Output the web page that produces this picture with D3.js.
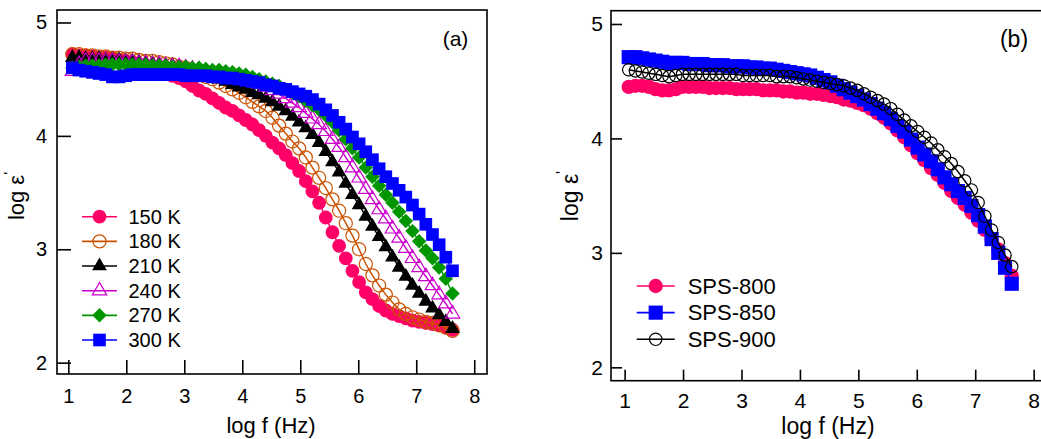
<!DOCTYPE html>
<html>
<head>
<meta charset="utf-8">
<script src="https://cdn.jsdelivr.net/npm/d3@7"></script>
<style>
  body { margin: 0; background: #fff; }
  text { font-family: "Liberation Sans", Arial, sans-serif; fill: #000; }
</style>
</head>
<body>
<script>
// measurement frequencies, log f (Hz)
const logF = [1.07, 1.185, 1.30, 1.415, 1.53, 1.645, 1.76, 1.875, 1.99, 2.105,
  2.22, 2.335, 2.45, 2.565, 2.68, 2.795, 2.91, 3.025, 3.14, 3.255,
  3.37, 3.485, 3.60, 3.715, 3.83, 3.945, 4.06, 4.175, 4.29, 4.405,
  4.52, 4.635, 4.75, 4.865, 4.98, 5.095, 5.21, 5.325, 5.44, 5.555,
  5.67, 5.785, 5.90, 6.015, 6.13, 6.245, 6.36, 6.475, 6.59, 6.705,
  6.82, 6.935, 7.05, 7.165, 7.28, 7.395, 7.51, 7.625];

// panel (a): log eps' at each temperature
const eps150 = [4.72, 4.71, 4.71, 4.70, 4.69, 4.69, 4.68, 4.67, 4.66, 4.65,
  4.63, 4.62, 4.60, 4.58, 4.56, 4.53, 4.51, 4.48, 4.44, 4.40,
  4.37, 4.33, 4.29, 4.25, 4.22, 4.18, 4.14, 4.10, 4.05, 4.00,
  3.94, 3.89, 3.83, 3.76, 3.69, 3.60, 3.51, 3.41, 3.28, 3.15,
  3.03, 2.92, 2.81, 2.71, 2.62, 2.56, 2.50, 2.46, 2.43, 2.41,
  2.39, 2.37, 2.36, 2.35, 2.34, 2.33, 2.31, 2.29];
const eps180 = [4.72, 4.72, 4.71, 4.71, 4.70, 4.70, 4.69, 4.69, 4.68, 4.68,
  4.67, 4.66, 4.66, 4.65, 4.64, 4.63, 4.61, 4.60, 4.57, 4.55,
  4.52, 4.50, 4.47, 4.44, 4.41, 4.38, 4.34, 4.30, 4.26, 4.22,
  4.16, 4.09, 4.02, 3.95, 3.89, 3.81, 3.72, 3.63, 3.54, 3.44,
  3.34, 3.23, 3.12, 3.00, 2.87, 2.77, 2.68, 2.60, 2.53, 2.47,
  2.43, 2.40, 2.38, 2.36, 2.35, 2.33, 2.31, 2.28];
const eps210 = [4.69, 4.69, 4.68, 4.68, 4.68, 4.67, 4.67, 4.67, 4.66, 4.66,
  4.65, 4.64, 4.64, 4.63, 4.62, 4.62, 4.61, 4.60, 4.58, 4.57,
  4.55, 4.53, 4.50, 4.48, 4.45, 4.43, 4.41, 4.38, 4.36, 4.33,
  4.30, 4.26, 4.22, 4.17, 4.12, 4.07, 4.01, 3.94, 3.86, 3.77,
  3.68, 3.58, 3.48, 3.39, 3.29, 3.20, 3.11, 3.02, 2.93, 2.84,
  2.76, 2.68, 2.61, 2.54, 2.48, 2.42, 2.36, 2.30];
const eps240 = [4.57, 4.63, 4.66, 4.66, 4.66, 4.66, 4.66, 4.65, 4.65, 4.65,
  4.64, 4.64, 4.63, 4.63, 4.62, 4.61, 4.61, 4.60, 4.59, 4.58,
  4.57, 4.56, 4.55, 4.54, 4.53, 4.52, 4.50, 4.48, 4.46, 4.43,
  4.40, 4.37, 4.33, 4.29, 4.25, 4.20, 4.15, 4.10, 4.04, 3.97,
  3.90, 3.81, 3.72, 3.63, 3.53, 3.44, 3.35, 3.27, 3.18, 3.10,
  3.01, 2.92, 2.84, 2.76, 2.68, 2.60, 2.52, 2.43];
const eps270 = [4.60, 4.61, 4.62, 4.62, 4.62, 4.63, 4.63, 4.63, 4.63, 4.63,
  4.63, 4.63, 4.62, 4.62, 4.62, 4.61, 4.61, 4.61, 4.60, 4.60,
  4.59, 4.58, 4.58, 4.57, 4.56, 4.55, 4.54, 4.52, 4.50, 4.48,
  4.46, 4.44, 4.41, 4.38, 4.35, 4.31, 4.27, 4.23, 4.18, 4.12,
  4.05, 3.97, 3.89, 3.81, 3.72, 3.64, 3.56, 3.48, 3.41, 3.33,
  3.25, 3.16, 3.07, 2.99, 2.92, 2.84, 2.74, 2.61];
const eps300 = [4.60, 4.58, 4.57, 4.56, 4.55, 4.54, 4.52, 4.52, 4.53, 4.54,
  4.54, 4.54, 4.54, 4.54, 4.54, 4.54, 4.54, 4.53, 4.53, 4.53,
  4.53, 4.52, 4.52, 4.51, 4.51, 4.50, 4.49, 4.48, 4.47, 4.45,
  4.44, 4.42, 4.41, 4.39, 4.37, 4.35, 4.32, 4.28, 4.23, 4.18,
  4.12, 4.06, 3.99, 3.93, 3.86, 3.79, 3.71, 3.64, 3.58, 3.52,
  3.46, 3.39, 3.31, 3.22, 3.13, 3.04, 2.93, 2.81];

// panel (b): log eps' for each sintering temperature
const sps800 = [4.45, 4.46, 4.46, 4.45, 4.43, 4.42, 4.42, 4.43, 4.45, 4.45,
  4.45, 4.45, 4.44, 4.44, 4.44, 4.44, 4.43, 4.43, 4.43, 4.43,
  4.42, 4.42, 4.42, 4.41, 4.41, 4.40, 4.40, 4.39, 4.39, 4.38,
  4.37, 4.36, 4.34, 4.33, 4.31, 4.29, 4.26, 4.22, 4.18, 4.13,
  4.07, 4.01, 3.94, 3.87, 3.81, 3.74, 3.68, 3.61, 3.54, 3.48,
  3.42, 3.35, 3.28, 3.20, 3.12, 3.03, 2.91, 2.80];
const sps850 = [4.71, 4.71, 4.70, 4.69, 4.68, 4.67, 4.66, 4.66, 4.66, 4.65,
  4.65, 4.65, 4.64, 4.64, 4.64, 4.63, 4.63, 4.63, 4.62, 4.62,
  4.61, 4.61, 4.60, 4.59, 4.58, 4.57, 4.56, 4.55, 4.53, 4.51,
  4.49, 4.46, 4.43, 4.40, 4.37, 4.34, 4.30, 4.26, 4.22, 4.17,
  4.11, 4.06, 3.99, 3.92, 3.86, 3.80, 3.73, 3.66, 3.60, 3.54,
  3.48, 3.41, 3.33, 3.23, 3.12, 3.00, 2.87, 2.73];
const sps900 = [4.60, 4.59, 4.58, 4.57, 4.56, 4.55, 4.54, 4.55, 4.56, 4.56,
  4.56, 4.56, 4.56, 4.56, 4.56, 4.56, 4.56, 4.55, 4.55, 4.55,
  4.55, 4.55, 4.54, 4.54, 4.54, 4.53, 4.52, 4.51, 4.50, 4.49,
  4.48, 4.47, 4.46, 4.44, 4.42, 4.39, 4.36, 4.33, 4.30, 4.26,
  4.21, 4.16, 4.11, 4.06, 4.01, 3.96, 3.90, 3.84, 3.78, 3.71,
  3.63, 3.55, 3.44, 3.32, 3.20, 3.09, 2.98, 2.88];

const labelsA = ["150 K", "180 K", "210 K", "240 K", "270 K", "300 K"];
const labelsB = ["SPS-800", "SPS-850", "SPS-900"];
const xTicks = [1, 2, 3, 4, 5, 6, 7, 8];
const yTicks = [2, 3, 4, 5];

const svg = d3.select("body").append("svg")
    .attr("width", 1041)
    .attr("height", 439);

const diamond = {draw(ctx, size) {
  const r = Math.sqrt(size) / 2 * Math.SQRT2;
  ctx.moveTo(0, -r); ctx.lineTo(r, 0); ctx.lineTo(0, r); ctx.lineTo(-r, 0); ctx.closePath();
}};

function drawPanel(p) {
  const x = d3.scaleLinear().domain(p.xDomain).range([p.left, p.right]);
  const y = d3.scaleLinear().domain(p.yDomain).range([p.bottom, p.top]);
  const g = svg.append("g");

  // data: line first, markers on top
  p.series.forEach(s => {
    const pts = logF.map((f, i) => [f, s.values[i]]);
    g.append("path")
        .attr("d", d3.line().x(d => x(d[0])).y(d => y(d[1]))(pts))
        .attr("fill", "none")
        .attr("stroke", s.color)
        .attr("stroke-width", 1.5);
    g.append("g").selectAll("path")
        .data(pts)
        .join("path")
        .attr("transform", d => `translate(${x(d[0])},${y(d[1])})`)
        .attr("d", d3.symbol().type(s.type).size(s.size)())
        .attr("fill", s.open ? "none" : s.color)
        .attr("stroke", s.open ? s.color : "none")
        .attr("stroke-width", 1.2);
  });

  // frame
  g.append("rect")
      .attr("x", p.left).attr("y", p.top)
      .attr("width", p.right - p.left).attr("height", p.bottom - p.top)
      .attr("fill", "none").attr("stroke", "#000").attr("stroke-width", 1.6);

  // axes, ticks pointing inward
  const xa = g.append("g")
      .attr("transform", `translate(0,${p.bottom})`)
      .call(d3.axisBottom(x).tickValues(xTicks).tickFormat(d3.format("d"))
          .tickSizeInner(-p.tick).tickSizeOuter(0).tickPadding(p.xPad));
  const ya = g.append("g")
      .attr("transform", `translate(${p.left},0)`)
      .call(d3.axisLeft(y).tickValues(yTicks).tickFormat(d3.format("d"))
          .tickSizeInner(-p.tick).tickSizeOuter(0).tickPadding(p.yPad));
  [xa, ya].forEach(a => {
    a.select(".domain").remove();
    a.selectAll("line").attr("stroke", "#000").attr("stroke-width", 1.6);
    a.selectAll("text").attr("font-size", p.tickFont)
        .attr("font-family", "Liberation Sans, Arial, sans-serif").attr("fill", "#000");
  });

  // axis titles
  g.append("text")
      .attr("x", (p.left + p.right) / 2 + p.xTitleShift).attr("y", p.xTitleY)
      .attr("text-anchor", "middle").attr("font-size", p.titleFont)
      .text("log f (Hz)");
  const yt = g.append("text")
      .attr("transform", `translate(${p.yTitleX},${p.yTitleY}) rotate(-90)`)
      .attr("text-anchor", "middle").attr("font-size", p.titleFont);
  yt.append("tspan").text("log ε");
  yt.append("tspan").attr("font-size", p.titleFont * 0.7).attr("dy", -p.titleFont * 0.45).text("'");

  // panel tag
  g.append("text")
      .attr("x", p.tagX).attr("y", p.tagY)
      .attr("text-anchor", "middle").attr("font-size", p.tagFont)
      .text(p.tag);

  // legend
  const lg = g.append("g");
  const rows = lg.selectAll("g").data(p.series).join("g")
      .attr("transform", (d, i) => `translate(${p.legX},${p.legY + i * p.legStep})`);
  rows.append("line")
      .attr("x1", 0).attr("x2", p.legLine)
      .attr("stroke", d => d.color).attr("stroke-width", 1.6);
  rows.append("path")
      .attr("transform", `translate(${p.legLine / 2},0)`)
      .attr("d", d => d3.symbol().type(d.type).size(d.size)())
      .attr("fill", d => d.open ? "none" : d.color)
      .attr("stroke", d => d.open ? d.color : "none")
      .attr("stroke-width", 1.2);
  rows.append("text")
      .attr("x", p.legLine + p.legGap).attr("y", p.legFont * 0.35)
      .attr("font-size", p.legFont)
      .text((d, i) => p.labels[i]);
}

drawPanel({
  left: 57, right: 487, top: 10, bottom: 374,
  xDomain: [0.805, 8.22], yDomain: [1.90, 5.11],
  tick: 14, xPad: 15, yPad: 10, tickFont: 20, titleFont: 22,
  xTitleShift: -1, xTitleY: 433, yTitleX: 24, yTitleY: 196,
  tag: "(a)", tagX: 455.5, tagY: 46, tagFont: 21,
  legX: 82, legY: 216.7, legStep: 24.66, legLine: 35, legGap: 11.5, legFont: 20,
  labels: labelsA,
  series: [
    {values: eps150, color: "#ff0066", type: d3.symbolCircle, size: 150},
    {values: eps180, color: "#cc5200", type: d3.symbolCircle, size: 135, open: true},
    {values: eps210, color: "#000000", type: d3.symbolTriangle, size: 95},
    {values: eps240, color: "#cc00cc", type: d3.symbolTriangle, size: 90, open: true},
    {values: eps270, color: "#009600", type: diamond, size: 105},
    {values: eps300, color: "#0000ff", type: d3.symbolSquare, size: 160}
  ]
});

drawPanel({
  left: 611, right: 1043, top: 10.7, bottom: 380.7,
  xDomain: [0.767, 8.16], yDomain: [1.883, 5.116],
  tick: 11, xPad: 12, yPad: 8, tickFont: 21, titleFont: 23,
  xTitleShift: 1, xTitleY: 433.5, yTitleX: 578, yTitleY: 196,
  tag: "(b)", tagX: 1014, tagY: 47, tagFont: 23,
  legX: 636.7, legY: 286, legStep: 26.65, legLine: 38, legGap: 13, legFont: 22,
  labels: labelsB,
  series: [
    {values: sps800, color: "#ff0066", type: d3.symbolCircle, size: 160},
    {values: sps850, color: "#0000ff", type: d3.symbolSquare, size: 200},
    {values: sps900, color: "#000000", type: d3.symbolCircle, size: 120, open: true}
  ]
});
</script>
</body>
</html>
